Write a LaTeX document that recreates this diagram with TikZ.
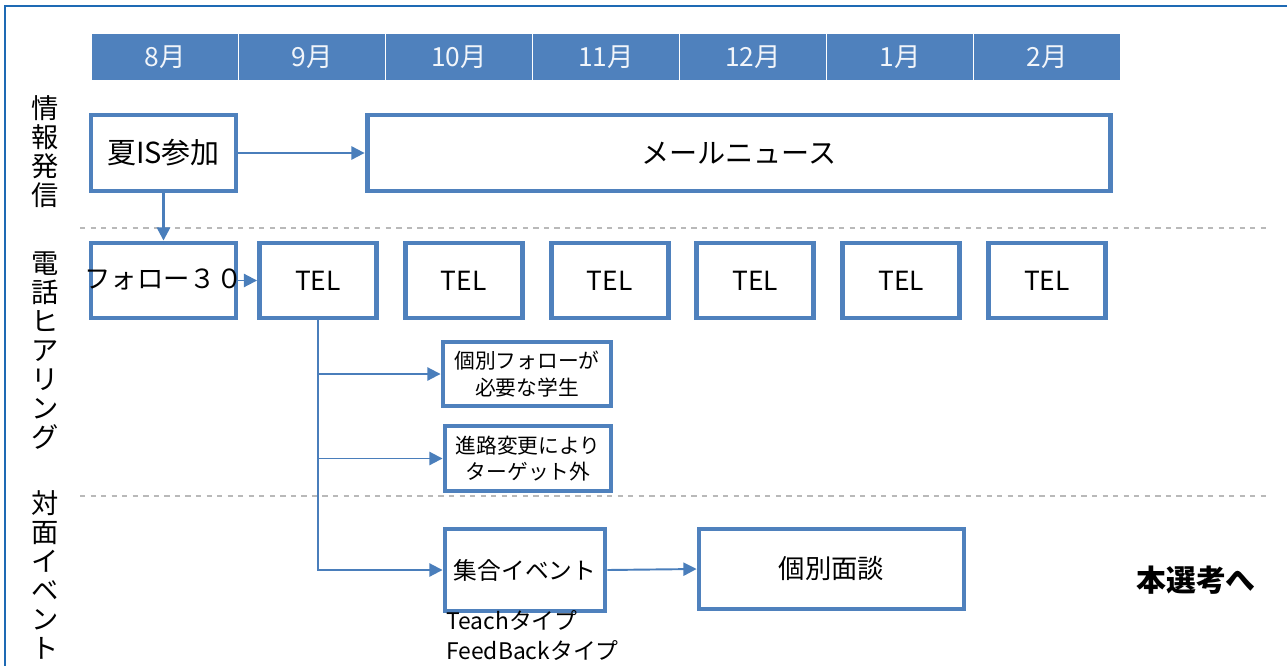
\documentclass[tikz,border=0pt]{standalone}
\usepackage{fontspec}
\setmainfont{Noto Sans CJK JP}
\usetikzlibrary{arrows.meta}
\definecolor{boxblue}{RGB}{79,129,189}
\definecolor{lineblue}{RGB}{74,126,187}
\definecolor{frameblue}{RGB}{30,106,180}

\tikzset{
  box/.style = {draw=boxblue, line width=2.8pt, fill=white, inner sep=0pt,
                align=center, font=\fontsize{15pt}{18pt}\selectfont},
  smallbox/.style = {box, font=\fontsize{11.8pt}{15pt}\selectfont},
  month/.style = {fill=boxblue, draw=white, line width=0.8pt, text=white!92!boxblue,
                  minimum width=2.94cm, minimum height=0.94cm, inner sep=0pt,
                  font=\fontsize{15pt}{16pt}\selectfont},
  conn/.style = {draw=lineblue, line width=1.1pt, -{Triangle[length=7.5pt,width=7.5pt]}},
  lane/.style = {align=center, font=\fontsize{15.5pt}{16.5pt}\selectfont},
  sep/.style = {draw=gray!55, dashed, line width=0.6pt}
}

\begin{document}
\begin{tikzpicture}[x=0.02cm, y=-0.02cm]

  \useasboundingbox (0,0) rectangle (1287,666);
  \draw[frameblue, line width=1.3pt] (1287,6) -- (5,6) -- (5,666);

  % month header
  \foreach \m [count=\i from 0] in {8,9,10,11,12,1,2}
    \node[month] (m\i) at (165+147*\i,57) {\m 月};

  % lanes
  \node[lane] (info) at (45,152) {情\\報\\発\\信};
  \node[lane] (phone) at (45,351) {電\\話\\ヒ\\ア\\リ\\ン\\グ};
  \node[lane] (face) at (45,575) {対\\面\\イ\\ベ\\ン\\ト};
  \draw[sep] (80,228) -- (1267,228);
  \draw[sep] (80,496) -- (1267,496);

  % info row
  \node[box, minimum width=2.9cm, minimum height=1.52cm,
        font=\fontsize{16.5pt}{18pt}\selectfont] (summer) at (163.5,153) {夏IS参加};
  \node[box, minimum width=14.88cm, minimum height=1.52cm,
        font=\fontsize{16pt}{18pt}\selectfont] (mail) at (739,153) {メールニュース};

  % phone row
  \node[box, minimum width=2.9cm, minimum height=1.5cm] (follow) at (163.5,280.5) {};
  \node[font=\fontsize{15pt}{18pt}\selectfont] (followtxt) at (163.5,279) {フォロー３０};
  \foreach \i in {1,...,6}
    \node[box, minimum width=2.34cm, minimum height=1.5cm] (tel\i) at (318+145.8*\i-145.8,280.5) {TEL};

  \node[smallbox, minimum width=3.36cm, minimum height=1.28cm] (single) at (527,374) {個別フォローが\\必要な学生};
  \node[smallbox, minimum width=3.32cm, minimum height=1.3cm] (change) at (528,458.5) {進路変更により\\ターゲット外};

  % event row
  \node[box, minimum width=3.2cm, minimum height=1.64cm,
        font=\fontsize{13.5pt}{18pt}\selectfont] (event) at (525,570) {集合イベント};
  \node[box, minimum width=5.3cm, minimum height=1.6cm] (talk) at (831.5,569) {個別面談};
  \node[anchor=north west, align=left, inner sep=0pt,
        font=\fontsize{13pt}{17pt}\selectfont] (types) at (446,610) {Teachタイプ\\FeedBackタイプ};
  \node[font=\fontsize{17pt}{18pt}\selectfont\bfseries] (final) at (1196,580) {本選考へ};

  % arrows
  \draw[conn] (summer.east) -- (mail.west);
  \draw[conn, line width=1.4pt] (summer.south) -- (follow.north);
  \draw[conn] (follow.east) -- (tel1.west);
  \draw[conn] (tel1.south) |- (single.west);
  \draw[conn] (tel1.south) |- (change.west);
  \draw[conn] (tel1.south) |- (event.west);
  \draw[conn] (event.east) -- (talk.west);

\end{tikzpicture}
\end{document}
